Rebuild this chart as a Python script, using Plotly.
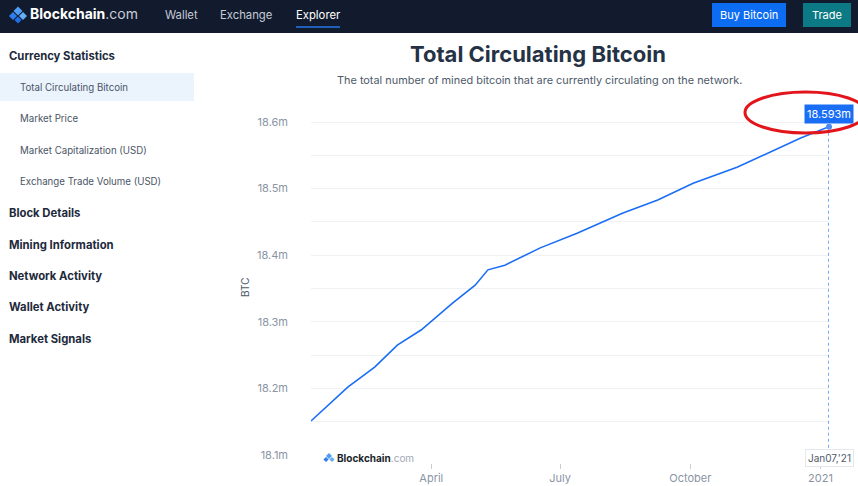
import plotly.graph_objects as go

W, H = 858, 486

# ---- data ----
dates = ["2020-01-07", "2020-02-02", "2020-02-21", "2020-03-08", "2020-03-25",
         "2020-04-16", "2020-05-02", "2020-05-11", "2020-05-23", "2020-06-03",
         "2020-06-17", "2020-07-13", "2020-08-14", "2020-09-08", "2020-09-24",
         "2020-10-03", "2020-11-03", "2020-11-26", "2020-12-18", "2021-01-07"]
btc_millions = [18.151, 18.202, 18.232, 18.265, 18.288,
                18.328, 18.355, 18.378, 18.385, 18.396,
                18.411, 18.433, 18.463, 18.483, 18.499,
                18.508, 18.532, 18.555, 18.576, 18.593]
y_tick_vals = [18.1, 18.2, 18.3, 18.4, 18.5, 18.6]
y_tick_text = ["18.1m", "18.2m", "18.3m", "18.4m", "18.5m", "18.6m"]
x_tick_vals = ["2020-04-01", "2020-07-01", "2020-10-01", "2021-01-01"]
x_tick_text = ["April", "July", "October", "2021"]
menu_items = ["Wallet", "Exchange", "Explorer"]
sub_items = ["Total Circulating Bitcoin", "Market Price",
             "Market Capitalization (USD)", "Exchange Trade Volume (USD)"]
sections = ["Block Details", "Mining Information", "Network Activity",
            "Wallet Activity", "Market Signals"]


def px(x):
    return x / W


def py(y):
    return 1 - y / H


FONT = "Inter, Roboto, sans-serif"
BLUE = "#1a6ef5"

fig = go.Figure()
fig.add_trace(go.Scatter(x=dates, y=btc_millions, mode="lines",
                         line=dict(color=BLUE, width=1.6), hoverinfo="skip"))
fig.add_trace(go.Scatter(x=[dates[-1]], y=[btc_millions[-1]], mode="markers",
                         marker=dict(color="#4a8af4", size=6), hoverinfo="skip",
                         cliponaxis=False))

shapes = []
annotations = []


def label(x, y, text, size, color, xanchor="left", **kw):
    annotations.append(dict(x=px(x), y=py(y), xref="paper", yref="paper",
                            xanchor=xanchor, yanchor="middle", showarrow=False,
                            text=text, font=dict(family=FONT, size=size, color=color), **kw))


# header bar
shapes.append(dict(type="rect", xref="paper", yref="paper", x0=0, x1=1,
                   y0=py(33), y1=1, fillcolor="#121b2e", line_width=0, layer="below"))


def diamond(cx, cy, r, color):
    path = (f"M {px(cx)} {py(cy - r)} L {px(cx + r)} {py(cy)} "
            f"L {px(cx)} {py(cy + r)} L {px(cx - r)} {py(cy)} Z")
    return dict(type="path", xref="paper", yref="paper", path=path,
                fillcolor=color, line_width=0)


shapes.append(diamond(18, 11, 4.5, "#4d9cf5"))
shapes.append(diamond(13, 16, 4, "#2d7ff0"))
shapes.append(diamond(23, 16, 4, "#66adf7"))
shapes.append(diamond(18, 20, 3.5, "#1f6fe8"))

label(28, 14, "<b>Blockchain</b><span style='color:#c9ced8'>.com</span>", 14, "#ffffff")
menu_x = [181, 246, 318]
for name, mx in zip(menu_items, menu_x):
    label(mx, 15, name, 11.3, "#ffffff" if name == "Explorer" else "#c5cad4", xanchor="center")
shapes.append(dict(type="rect", xref="paper", yref="paper", x0=px(296), x1=px(340),
                   y0=py(28), y1=py(26), fillcolor="#1f5fb8", line_width=0))
# buttons
shapes.append(dict(type="rect", xref="paper", yref="paper", x0=px(712), x1=px(786),
                   y0=py(27), y1=py(3), fillcolor="#0c6cf2", line_width=0))
label(749, 15, "Buy Bitcoin", 11, "#ffffff", xanchor="center")
shapes.append(dict(type="rect", xref="paper", yref="paper", x0=px(803), x1=px(851),
                   y0=py(27), y1=py(3), fillcolor="#0b7a84", line_width=0))
label(827, 15, "Trade", 11, "#ffffff", xanchor="center")

# sidebar
label(7, 56, "<b>Currency Statistics</b>", 11.3, "#1e2a3c")
shapes.append(dict(type="rect", xref="paper", yref="paper", x0=0, x1=px(194),
                   y0=py(101), y1=py(73), fillcolor="#ebf3fd", line_width=0,
                   layer="below"))
for name, sy in zip(sub_items, [87, 118, 150, 181]):
    label(18, sy, name, 9.7, "#4a5566")
for name, sy in zip(sections, [213, 245, 276, 307, 339]):
    label(7, sy, f"<b>{name}</b>", 11.3, "#1e2a3c")

# title & subtitle
label(538, 54, "<b>Total Circulating Bitcoin</b>", 22, "#253246", xanchor="center")
label(539, 80, "The total number of mined bitcoin that are currently circulating on the network.",
      10.9, "#4d5a6b", xanchor="center")

# y axis title
label(245, 288, "BTC", 10, "#4d5a6b", xanchor="center", textangle=-90)

# watermark
shapes.append(diamond(329, 456, 3, "#4d9cf5"))
shapes.append(diamond(326, 459.5, 2.6, "#2d7ff0"))
shapes.append(diamond(332, 459.5, 2.6, "#66adf7"))
label(335, 458, "<b>Blockchain</b><span style='color:#a0a8b5'>.com</span>", 10, "#1a1f2b")

# end-point dotted line, value label and date tooltip
shapes.append(dict(type="line", xref="x", yref="y", x0=dates[-1], x1=dates[-1],
                   y0=btc_millions[-1], y1=18.1, line=dict(color="#4a8af4", width=1.5, dash="dot")))
annotations.append(dict(x=dates[-1], y=btc_millions[-1], xref="x", yref="y",
                        showarrow=False, yshift=13, yanchor="middle", text=f"{btc_millions[-1]:.3f}m",
                        bgcolor=BLUE, borderpad=2,
                        font=dict(family=FONT, size=11, color="#ffffff")))
annotations.append(dict(x=dates[-1], y=py(458), xref="x", yref="paper", yanchor="middle",
                        showarrow=False, text="Jan07,'21", bgcolor="#ffffff",
                        bordercolor="#e4e7ec", borderwidth=1, borderpad=2,
                        font=dict(family=FONT, size=10, color="#4f5b6b")))

# red highlight ellipse
shapes.append(dict(type="circle", xref="paper", yref="paper", x0=px(745), x1=px(866),
                   y0=py(133), y1=py(92), line=dict(color="#e3151c", width=3)))

fig.update_layout(
    width=W, height=H, margin=dict(l=0, r=0, t=0, b=0, autoexpand=False),
    paper_bgcolor="#ffffff", plot_bgcolor="#ffffff", showlegend=False,
    shapes=shapes, annotations=annotations,
    xaxis=dict(domain=[px(311), px(829)], range=[dates[0], dates[-1]], type="date",
               tickvals=x_tick_vals, ticktext=x_tick_text, showgrid=False,
               zeroline=False, showline=False, ticks="outside", ticklen=5,
               tickcolor="#c8ccd3", anchor="free", position=py(463), automargin=False,
               tickfont=dict(family=FONT, size=11, color="#8a94a4")),
    yaxis=dict(domain=[py(455), py(110)], range=[18.1, 18.1 + 345 / 666],
               tickvals=y_tick_vals, ticktext=y_tick_text, showgrid=True,
               gridcolor="#f0f1f3", gridwidth=1, zeroline=False, showline=False,
               ticks="", ticklabelstandoff=22, automargin=False,
               minor=dict(dtick=0.05, tick0=18.1, showgrid=True, gridcolor="#f0f1f3"),
               tickfont=dict(family=FONT, size=11, color="#8a94a4")),
)

fig.write_html(
    "out.html",
    config={"displayModeBar": False},
    post_script=(
        "var s=document.documentElement.style;s.margin='0';s.padding='0';"
        "s.overflow='hidden';"
        "var b=document.body.style;b.margin='0';b.padding='0';b.overflow='hidden';"
    ),
)
